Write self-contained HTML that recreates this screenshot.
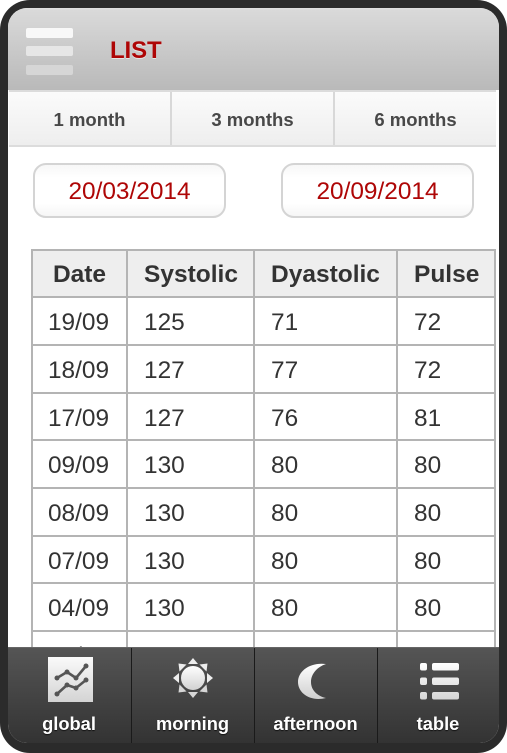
<!DOCTYPE html>
<html lang="en">
<head>
<meta charset="utf-8">
<title>Blood pressure list</title>
<style>
html,body{margin:0;padding:0;width:507px;height:753px;overflow:hidden;background:#fff;font-family:"Liberation Sans",sans-serif}
#frame{position:absolute;left:0;top:0;width:507px;height:753px;background:#2b2b2b;border-radius:30px 30px 30px 30px}
#screen{position:absolute;left:8px;top:8px;width:491px;height:735px;background:#fff;border-radius:19px;overflow:hidden}
#header{position:absolute;left:0;top:0;width:491px;height:82px;background:linear-gradient(#dadada,#b9b9b9);border-top:1px solid #dedede;box-sizing:border-box}
.menu-bar{position:absolute;left:18px;width:47px;height:10px;border-radius:2px}
#title{position:absolute;left:102px;top:28px;font-size:24px;font-weight:bold;line-height:28px;color:#ae0606;text-shadow:0 1px 0 rgba(255,255,255,.55);letter-spacing:-.1px}
#tabs{position:absolute;left:1px;top:82px;width:487px;height:57px;box-sizing:border-box;border-top:2px solid #dcdcdc;border-bottom:2px solid #dcdcdc;background:linear-gradient(#fbfbfb,#eeeeee);display:flex}
.tab{height:53px;line-height:55px;text-align:center;font-size:18.5px;font-weight:bold;color:#484848;box-sizing:border-box}
.date{position:absolute;top:155px;width:193px;height:55px;box-sizing:border-box;border:2px solid #d4d4d4;border-radius:13px;background:linear-gradient(#f7f7f7,#fff 25%,#fff 75%,#f6f6f6);color:#ae0606;font-size:24.4px;line-height:54px;text-align:center}
#table{position:absolute;left:23px;top:241px;border-collapse:collapse;table-layout:fixed;width:465px;font-size:24.4px;color:#333}
#table th,#table td{border:2px solid #b4b4b4;padding:4px 0 0 16px;text-align:left;box-sizing:border-box;overflow:hidden;white-space:nowrap}
#table th{background:#eeeeee;font-weight:bold;font-size:24.5px;color:#333;padding-top:3px}
#table td.c1{padding:4px 2px 0 0;text-align:center}
#table th.c1{padding:3px 0 0 0;text-align:center}
#nav{position:absolute;left:0;top:639px;width:491px;height:96px;background:linear-gradient(#555555,#333333);border-top:1px solid #666;box-sizing:border-box;display:flex}
.nav-item{position:relative;height:95px;box-sizing:border-box;border-right:1px solid #1a1a1a}
.nav-label{position:absolute;left:-1px;right:0;top:65px;text-align:center;font-size:18.3px;line-height:22px;font-weight:bold;color:#fff;text-shadow:0 1px 1px rgba(0,0,0,.7)}
svg{position:absolute;overflow:visible}
</style>
</head>
<body>
<div id="frame">
<div id="screen">

  <div id="tablewrap">
    <table id="table">
      <colgroup><col style="width:95px"><col style="width:127px"><col style="width:143px"><col style="width:98px"></colgroup>
      <tr style="height:47px">
        <th class="c1">Date</th>
        <th>Systolic</th>
        <th>Dyastolic</th>
        <th>Pulse</th>
      </tr>
      <tr style="height:48px"><td class="c1">19/09</td><td>125</td><td>71</td><td>72</td></tr>
      <tr style="height:48px"><td class="c1">18/09</td><td>127</td><td>77</td><td>72</td></tr>
      <tr style="height:47px"><td class="c1">17/09</td><td>127</td><td>76</td><td>81</td></tr>
      <tr style="height:48px"><td class="c1">09/09</td><td>130</td><td>80</td><td>80</td></tr>
      <tr style="height:48px"><td class="c1">08/09</td><td>130</td><td>80</td><td>80</td></tr>
      <tr style="height:47px"><td class="c1">07/09</td><td>130</td><td>80</td><td>80</td></tr>
      <tr style="height:48px"><td class="c1">04/09</td><td>130</td><td>80</td><td>80</td></tr>
      <tr style="height:48px"><td class="c1">03/09</td><td>130</td><td>80</td><td>80</td></tr>
    </table>
  </div>

  <div id="header">
    <div>
      <div class="menu-bar" style="top:19px;background:#f8f8f8"></div>
      <div class="menu-bar" style="top:37px;background:#e6e6e6"></div>
      <div class="menu-bar" style="top:56px;background:#d6d6d6"></div>
    </div>
    <div id="title">LIST</div>
  </div>

  <div id="tabs">
    <div class="tab" style="width:163px;border-right:2px solid #d8d8d8">1 month</div>
    <div class="tab" style="width:163px;border-right:2px solid #d8d8d8">3 months</div>
    <div class="tab" style="width:161px">6 months</div>
  </div>

  <div class="date" style="left:25px">20/03/2014</div>
  <div class="date" style="left:273px">20/09/2014</div>

  <div id="nav">
    <div class="nav-item" style="width:124px">
      <svg style="left:40px;top:9px" width="45" height="45" viewBox="0 0 45 45">
        <defs><linearGradient id="ig" x1="0" y1="0" x2="0" y2="1"><stop offset="0" stop-color="#fafafa"/><stop offset="1" stop-color="#d4d4d4"/></linearGradient></defs>
        <rect width="45" height="45" fill="url(#ig)"/>
        <polyline points="9,21 19,15 28,21 38,9" fill="none" stroke="#555" stroke-width="2.6" stroke-linejoin="round"/>
        <polyline points="9,37 19,28 28,31 38,23" fill="none" stroke="#555" stroke-width="2.6" stroke-linejoin="round"/>
        <g fill="#555"><circle cx="9" cy="21" r="2.5"/><circle cx="19" cy="15" r="2.5"/><circle cx="28" cy="21" r="2.5"/><circle cx="38" cy="9" r="2.5"/><circle cx="9" cy="37" r="2.5"/><circle cx="19" cy="28" r="2.5"/><circle cx="28" cy="31" r="2.5"/><circle cx="38" cy="23" r="2.5"/></g>
      </svg>
      <div class="nav-label">global</div>
    </div>
    <div class="nav-item" style="width:123px">
      <svg style="left:41px;top:10px" width="40" height="40" viewBox="-20 -20 40 40">
        <defs><linearGradient id="sg" x1="0" y1="0" x2="0" y2="1"><stop offset="0" stop-color="#ffffff"/><stop offset="1" stop-color="#d2d2d2"/></linearGradient></defs>
        <circle r="12" fill="url(#sg)"/>
        <g fill="#eeeeee">
          <polygon points="-5,-14 5,-14 0,-20"/>
          <polygon points="-5,14 5,14 0,20" fill="#d6d6d6"/>
          <polygon points="14,-5 14,5 20,0"/>
          <polygon points="-14,-5 -14,5 -20,0"/>
          <polygon points="6.5,-13.5 13.5,-6.5 14.5,-14.5"/>
          <polygon points="-6.5,-13.5 -13.5,-6.5 -14.5,-14.5"/>
          <polygon points="6.5,13.5 13.5,6.5 14.5,14.5" fill="#d6d6d6"/>
          <polygon points="-6.5,13.5 -13.5,6.5 -14.5,14.5" fill="#d6d6d6"/>
        </g>
      </svg>
      <div class="nav-label">morning</div>
    </div>
    <div class="nav-item" style="width:123px">
      <svg style="left:43px;top:15px" width="32" height="38" viewBox="0 0 32 38">
        <defs><linearGradient id="mg" x1="0" y1="0" x2="0" y2="1"><stop offset="0" stop-color="#ffffff"/><stop offset="1" stop-color="#cfcfcf"/></linearGradient></defs>
        <path d="M28,1 C12,-1 0,8 0,19 C0,30 12,39 28,35 C19,33 13,27 13,19 C13,11 19,4 28,1 Z" fill="url(#mg)"/>
      </svg>
      <div class="nav-label">afternoon</div>
    </div>
    <div class="nav-item" style="width:121px;border-right:0">
      <svg style="left:42px;top:15px" width="40" height="37" viewBox="0 0 40 37">
        <defs><linearGradient id="lg" gradientUnits="userSpaceOnUse" x1="0" y1="0" x2="0" y2="37"><stop offset="0" stop-color="#ffffff"/><stop offset="1" stop-color="#d4d4d4"/></linearGradient></defs>
        <g fill="url(#lg)">
          <rect x="0" y="0" width="7" height="7.5" rx="2"/><rect x="12" y="0" width="27" height="7.5" rx="2"/>
          <rect x="0" y="14.5" width="7" height="7.5" rx="2"/><rect x="12" y="14.5" width="27" height="7.5" rx="2"/>
          <rect x="0" y="29" width="7" height="7.5" rx="2"/><rect x="12" y="29" width="27" height="7.5" rx="2"/>
        </g>
      </svg>
      <div class="nav-label">table</div>
    </div>
  </div>

</div>
</div>
</body>
</html>
